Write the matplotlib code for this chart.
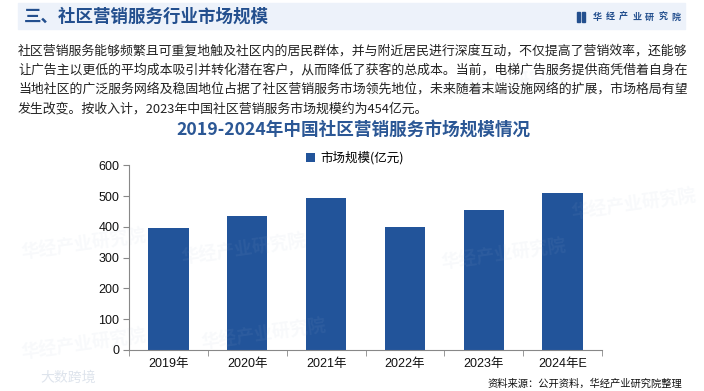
import matplotlib
matplotlib.use('Agg')
import matplotlib.pyplot as plt
from matplotlib.patches import Rectangle
import numpy as np

plt.rcParams['font.family'] = ['Liberation Sans', 'Noto Sans CJK SC', 'DejaVu Sans']

# data
years = ['2019年', '2020年', '2021年', '2022年', '2023年', '2024年E']
market_size = [396, 434, 493, 398, 454, 510]   # 亿元
series_name = '市场规模(亿元)'
y_ticks = [0, 100, 200, 300, 400, 500, 600]

header = '三、社区营销服务行业市场规模'
brand = '华经产业研究院'
chart_title = '2019-2024年中国社区营销服务市场规模情况'
source = '资料来源：公开资料，华经产业研究院整理'
para_lines = [
    '社区营销服务能够频繁且可重复地触及社区内的居民群体，并与附近居民进行深度互动，不仅提高了营销效率，还能够',
    '让广告主以更低的平均成本吸引并转化潜在客户，从而降低了获客的总成本。当前，电梯广告服务提供商凭借着自身在',
    '当地社区的广泛服务网络及稳固地位占据了社区营销服务市场领先地位，未来随着末端设施网络的扩展，市场格局有望',
    '发生改变。按收入计，2023年中国社区营销服务市场规模约为454亿元。',
]

bar_color = '#22549a'
dark_blue = '#234f8e'
cjk = ['Noto Sans CJK SC', 'DejaVu Sans']

W, H = 704, 391
fig = plt.figure(figsize=(W / 100, H / 100), dpi=100)

def fx(px): return px / W
def fy(py): return 1 - py / H

# header band
fig.patches.append(Rectangle((fx(18), fy(29)), fx(685) - fx(18), fy(3) - fy(29),
                             transform=fig.transFigure, color='#edf2fa', zorder=0))
fig.text(fx(24), fy(17), header, family=cjk, fontsize=12.6, fontweight='bold',
         color=dark_blue, va='center', ha='left')
# brand logo + name
fig.patches.append(Rectangle((fx(577), fy(22)), fx(3), fy(12) - fy(22),
                             transform=fig.transFigure, color=dark_blue))
fig.patches.append(Rectangle((fx(581.5), fy(22)), fx(3), fy(12) - fy(22),
                             transform=fig.transFigure, color=dark_blue))
for i, ch in enumerate(brand):
    fig.text(fx(597 + i * 13.2), fy(17), ch, family=cjk, fontsize=6.5,
             fontweight='bold', color=dark_blue, va='center', ha='center')

# faint watermarks
for (wx, wy) in [(180, 250), (440, 255), (20, 245), (440, 85), (200, 335), (570, 205), (20, 345)]:
    fig.text(fx(wx), fy(wy), brand, family=cjk, fontsize=13, fontweight='bold',
             color='#a9bbd4', alpha=0.08, rotation=8, ha='left', va='center', zorder=0)
fig.text(fx(40), fy(378), '大数跨境', family=cjk, fontsize=10, color='#c8d2e0',
         alpha=0.6, ha='left', va='center')

# paragraph
for i, line in enumerate(para_lines):
    fig.text(fx(18), fy(51 + i * 19.2), line, family=cjk, fontsize=9.3,
             color='#222222', ha='left', va='center')

# chart title
fig.text(fx(353), fy(130), chart_title, family=cjk, fontsize=12.7, fontweight='bold',
         color='#2b5795', ha='center', va='center')

# bar chart
ax = fig.add_axes([fx(129), fy(350), fx(602) - fx(129), fy(165.3) - fy(350)])
ax.patch.set_alpha(0)
x = np.arange(len(years))
ax.bar(x, market_size, width=0.51, color=bar_color, label=series_name, zorder=2)
ax.set_xlim(-0.5, len(years) - 0.5)
ax.set_ylim(0, 600)
ax.set_yticks(y_ticks)
ax.set_xticks(x)
ax.set_xticklabels(years)
ax.set_xticks(np.arange(len(years) + 1) - 0.5, minor=True)
ax.tick_params(axis='x', which='major', length=0, pad=6, labelsize=9, colors='#111111')
ax.tick_params(axis='x', which='minor', length=4, color='#888888')
ax.tick_params(axis='y', length=4, color='#888888', labelsize=9, labelcolor='#111111', pad=3)
for s in ['top', 'right']:
    ax.spines[s].set_visible(False)
for s in ['left', 'bottom']:
    ax.spines[s].set_color('#888888')
    ax.spines[s].set_linewidth(0.8)

leg = ax.legend(loc='center', frameon=False,
                handlelength=0.7, handleheight=0.7, handletextpad=0.4,
                prop={'family': cjk, 'size': 9})
leg.set_bbox_to_anchor((fx(355), fy(158)), transform=fig.transFigure)

fig.text(fx(682), fy(384), source, family=cjk, fontsize=7.4, color='#111111',
         ha='right', va='center')

fig.savefig('out.png', dpi=100)
